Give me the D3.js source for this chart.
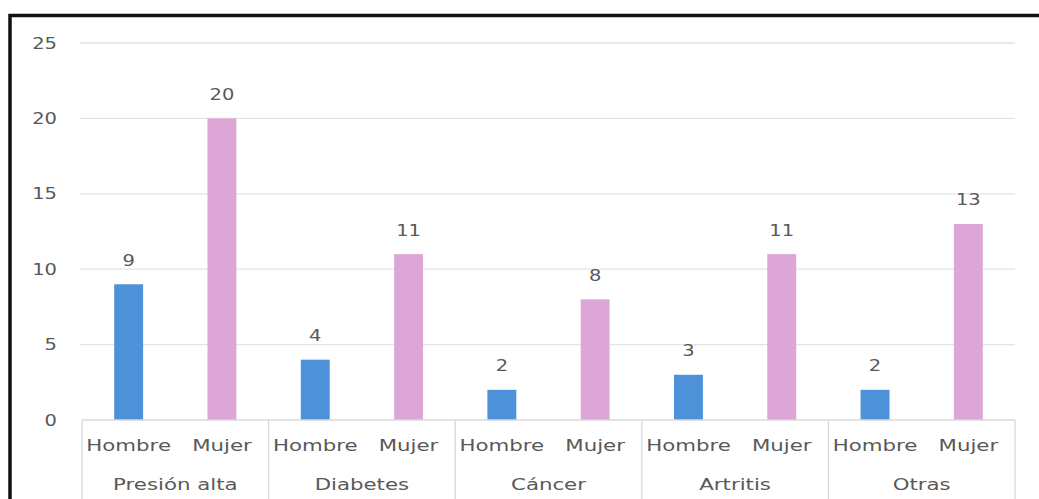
<!DOCTYPE html>
<html><head><meta charset="utf-8">
<script src="https://cdn.jsdelivr.net/npm/d3@7"></script>
<style>html,body{margin:0;padding:0;background:#fff;}svg{display:block;}</style>
</head><body>
<svg id="c" width="1039" height="499"></svg>
<script>
const categories = ["Presión alta", "Diabetes", "Cáncer", "Artritis", "Otras"];
const sexes = ["Hombre", "Mujer"];
const hombre = [9, 4, 2, 3, 2];
const mujer = [20, 11, 8, 11, 13];
const yTicks = [0, 5, 10, 15, 20, 25];

const colors = {Hombre: "#4d91d8", Mujer: "#dca7d6"};
const textColor = "#595959";
const font = "'DejaVu Sans', sans-serif";
const sxNum = 1.3, sxTxt = 1.42;

const svg = d3.select("#c");
const pLeft = 82, pRight = 1015, pTop = 43, pBottom = 420;

const x = d3.scaleBand().domain(categories).range([pLeft, pRight]).paddingInner(0).paddingOuter(0);
const xs = d3.scalePoint().domain(sexes).range([0, x.bandwidth()]).padding(0.5);
const y = d3.scaleLinear().domain([0, 25]).range([pBottom, pTop]);
const barW = xs.step() * 0.31;

// frame
svg.append("rect").attr("x", 10).attr("y", 15.5).attr("width", 1040).attr("height", 500)
  .attr("fill", "none").attr("stroke", "#111").attr("stroke-width", 3.5);

// gridlines
svg.append("g").selectAll("line").data(yTicks.filter(d => d > 0)).join("line")
  .attr("x1", pLeft - 2).attr("x2", pRight).attr("y1", d => y(d)).attr("y2", d => y(d))
  .attr("stroke", "#e3e3e3").attr("stroke-width", 1.3);

function stext(sel, fs) {
  return sel.attr("font-family", font).attr("font-size", fs).attr("fill", textColor);
}

// y labels
stext(svg.append("g").selectAll("text").data(yTicks).join("text"), 15)
  .attr("text-anchor", "end")
  .attr("transform", d => `translate(57,${y(d) + 5.5}) scale(${sxNum},1)`)
  .text(d => d);

// bars
const data = [];
categories.forEach((c, i) => {
  data.push({cat: c, sex: "Hombre", v: hombre[i]});
  data.push({cat: c, sex: "Mujer", v: mujer[i]});
});
svg.append("g").selectAll("rect").data(data).join("rect")
  .attr("x", d => x(d.cat) + xs(d.sex) - barW / 2)
  .attr("width", barW)
  .attr("y", d => y(d.v))
  .attr("height", d => y(0) - y(d.v))
  .attr("fill", d => colors[d.sex]);

// value labels
stext(svg.append("g").selectAll("text").data(data).join("text"), 15)
  .attr("text-anchor", "middle")
  .attr("transform", d => `translate(${x(d.cat) + xs(d.sex)},${y(d.v) - 18.5}) scale(${sxNum},1)`)
  .text(d => d.v);

// x axis line & separators
svg.append("line").attr("x1", pLeft).attr("x2", pRight).attr("y1", pBottom).attr("y2", pBottom)
  .attr("stroke", "#d9d9d9").attr("stroke-width", 1.3);
const seps = categories.map(c => x(c)).concat([pRight]);
svg.append("g").selectAll("line").data(seps).join("line")
  .attr("x1", d => d).attr("x2", d => d).attr("y1", pBottom).attr("y2", 499)
  .attr("stroke", "#d9d9d9").attr("stroke-width", 1.3);

// sub labels
stext(svg.append("g").selectAll("text").data(data).join("text"), 15)
  .attr("text-anchor", "middle")
  .attr("transform", d => `translate(${x(d.cat) + xs(d.sex)},451) scale(${sxTxt},1)`)
  .text(d => d.sex);

// category labels
stext(svg.append("g").selectAll("text").data(categories).join("text"), 15)
  .attr("text-anchor", "middle")
  .attr("transform", d => `translate(${x(d) + x.bandwidth() / 2},490) scale(${sxTxt},1)`)
  .text(d => d);
</script>
</body></html>
